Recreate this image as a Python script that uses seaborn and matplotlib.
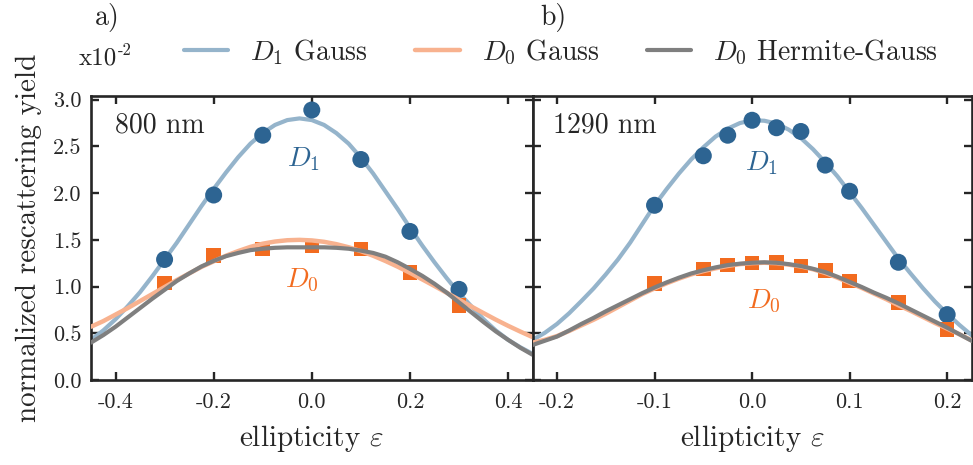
import matplotlib
matplotlib.use("Agg")
import matplotlib.pyplot as plt
import seaborn as sns

# ---------------- data ----------------
# panel a) 800 nm : measured points
left_x_pts = [-0.3, -0.2, -0.1, 0.0, 0.1, 0.2, 0.3]
left_d1_pts = [1.29, 1.98, 2.62, 2.89, 2.36, 1.59, 0.97]
left_d0_pts = [1.04, 1.33, 1.40, 1.435, 1.40, 1.15, 0.80]

# panel a) fitted curves (read off the picture)
left_fit_x = [-0.45, -0.425, -0.4, -0.375, -0.35, -0.325, -0.3, -0.275, -0.25, -0.225,
              -0.2, -0.175, -0.15, -0.125, -0.1, -0.075, -0.05, -0.025, 0.0, 0.025,
              0.05, 0.075, 0.1, 0.125, 0.15, 0.175, 0.2, 0.225, 0.25, 0.275,
              0.3, 0.325, 0.35, 0.375, 0.4, 0.425, 0.45]
left_d1_gauss = [0.43, 0.53, 0.65, 0.79, 0.94, 1.11, 1.29, 1.47, 1.665, 1.86,
                 2.045, 2.22, 2.385, 2.53, 2.643, 2.73, 2.782, 2.80, 2.782, 2.73,
                 2.643, 2.53, 2.38, 2.21, 2.02, 1.83, 1.63, 1.44, 1.26, 1.09,
                 0.93, 0.79, 0.65, 0.53, 0.43, 0.35, 0.28]
left_d0_gauss = [0.57, 0.63, 0.70, 0.77, 0.845, 0.92, 0.995, 1.07, 1.14, 1.21,
                 1.27, 1.33, 1.38, 1.425, 1.459, 1.482, 1.496, 1.50, 1.494, 1.479,
                 1.454, 1.421, 1.379, 1.33, 1.274, 1.213, 1.147, 1.077, 1.006, 0.933,
                 0.86, 0.787, 0.716, 0.646, 0.58, 0.518, 0.459]
left_d0_hg = [0.40, 0.48, 0.57, 0.67, 0.77, 0.87, 0.965, 1.06, 1.14, 1.215,
              1.275, 1.325, 1.36, 1.39, 1.405, 1.415, 1.42, 1.42, 1.42, 1.42,
              1.415, 1.405, 1.385, 1.36, 1.32, 1.26, 1.19, 1.115, 1.03, 0.935,
              0.83, 0.725, 0.62, 0.52, 0.43, 0.345, 0.27]

# panel b) 1290 nm : measured points
right_x_pts = [-0.1, -0.05, -0.025, 0.0, 0.025, 0.05, 0.075, 0.1, 0.15, 0.2]
right_d1_pts = [1.87, 2.40, 2.62, 2.78, 2.70, 2.66, 2.30, 2.02, 1.26, 0.70]
right_d0_pts = [1.03, 1.19, 1.23, 1.25, 1.26, 1.22, 1.17, 1.06, 0.83, 0.54]

# panel b) fitted curves (read off the picture)
right_fit_x = [-0.225, -0.2125, -0.2, -0.1875, -0.175, -0.1625, -0.15, -0.1375, -0.125, -0.1125,
               -0.1, -0.0875, -0.075, -0.0625, -0.05, -0.0375, -0.025, -0.0125, 0.0, 0.0125,
               0.025, 0.0375, 0.05, 0.0625, 0.075, 0.0875, 0.1, 0.1125, 0.125, 0.1375,
               0.15, 0.1625, 0.175, 0.1875, 0.2, 0.2125, 0.225]
right_d1_gauss = [0.43, 0.505, 0.60, 0.715, 0.845, 0.98, 1.13, 1.29, 1.47, 1.67,
                  1.87, 2.045, 2.21, 2.36, 2.49, 2.605, 2.69, 2.75, 2.78, 2.775,
                  2.745, 2.68, 2.59, 2.47, 2.33, 2.18, 2.01, 1.84, 1.66, 1.48,
                  1.30, 1.14, 0.985, 0.84, 0.71, 0.59, 0.48]
right_d0_gauss = [0.40, 0.43, 0.47, 0.525, 0.585, 0.645, 0.71, 0.78, 0.85, 0.92,
                  0.98, 1.035, 1.085, 1.13, 1.165, 1.195, 1.22, 1.24, 1.25, 1.255,
                  1.25, 1.235, 1.215, 1.185, 1.145, 1.095, 1.04, 0.985, 0.925, 0.865,
                  0.80, 0.74, 0.675, 0.61, 0.55, 0.49, 0.425]
right_d0_hg = [0.375, 0.42, 0.465, 0.53, 0.60, 0.665, 0.735, 0.80, 0.865, 0.93,
               0.99, 1.045, 1.095, 1.14, 1.175, 1.205, 1.23, 1.245, 1.255, 1.26,
               1.255, 1.24, 1.22, 1.19, 1.155, 1.105, 1.05, 0.995, 0.935, 0.88,
               0.82, 0.755, 0.69, 0.625, 0.56, 0.49, 0.42]

y_ticks = [0.0, 0.5, 1.0, 1.5, 2.0, 2.5, 3.0]
left_x_ticks = [-0.4, -0.2, 0.0, 0.2, 0.4]
right_x_ticks = [-0.2, -0.1, 0.0, 0.1, 0.2]

legend_labels = ["$D_1$ Gauss", "$D_0$ Gauss", "$D_0$ Hermite-Gauss"]

# ---------------- style ----------------
C_D1_LINE = "#95b4cb"
C_D0_LINE = "#f8b28f"
C_HG_LINE = "#7f7f7f"
C_D1_PT = "#2d6492"
C_D0_PT = "#f26b1f"

sns.set_style("ticks")
plt.rcParams.update({
    "font.family": "serif",
    "font.serif": ["cmr10", "DejaVu Serif"],
    "mathtext.fontset": "cm",
    "axes.unicode_minus": False,
    "axes.formatter.use_mathtext": False,
    "axes.linewidth": 1.9,
    "xtick.direction": "in",
    "ytick.direction": "in",
    "xtick.major.size": 6,
    "ytick.major.size": 6,
    "xtick.major.width": 1.7,
    "ytick.major.width": 1.7,
    "xtick.labelsize": 16,
    "ytick.labelsize": 16,
})

fig = plt.figure(figsize=(9.73, 4.65), dpi=100)
ax1 = fig.add_axes([0.0935, 0.1828, 0.4539, 0.6108])
ax2 = fig.add_axes([0.5474, 0.1828, 0.4511, 0.6108])


def draw(ax, fx, g1, g0, hg, px, p1, p0):
    sns.lineplot(x=fx, y=g1, ax=ax, color=C_D1_LINE, lw=3.0, label=legend_labels[0],
                 estimator=None, sort=False, zorder=2)
    sns.scatterplot(x=px, y=p1, ax=ax, color=C_D1_PT, marker="o", s=150,
                    edgecolor="none", zorder=3, legend=False)
    sns.scatterplot(x=px, y=p0, ax=ax, color=C_D0_PT, marker="s", s=110,
                    edgecolor="none", zorder=3, legend=False)
    sns.lineplot(x=fx, y=g0, ax=ax, color=C_D0_LINE, lw=3.2, label=legend_labels[1],
                 estimator=None, sort=False, zorder=4)
    sns.lineplot(x=fx, y=hg, ax=ax, color=C_HG_LINE, lw=3.0, label=legend_labels[2],
                 estimator=None, sort=False, zorder=5)


draw(ax1, left_fit_x, left_d1_gauss, left_d0_gauss, left_d0_hg,
     left_x_pts, left_d1_pts, left_d0_pts)
draw(ax2, right_fit_x, right_d1_gauss, right_d0_gauss, right_d0_hg,
     right_x_pts, right_d1_pts, right_d0_pts)

handles, labels = ax1.get_legend_handles_labels()
ax1.get_legend().remove()
ax2.get_legend().remove()

for ax in (ax1, ax2):
    ax.set_ylim(0, 3.04)
    ax.set_yticks(y_ticks)
    ax.tick_params(which="both", top=True, right=True, direction="in")
    ax.tick_params(axis="x", pad=9)
    ax.tick_params(axis="y", pad=7)
    for s in ax.spines.values():
        s.set_visible(True)
        s.set_linewidth(1.9)
    ax.set_xlabel(r"ellipticity $\varepsilon$", fontsize=21, labelpad=8)

ax1.set_xlim(-0.45, 0.45)
ax1.set_xticks(left_x_ticks)
ax1.set_xticklabels([f"{v:.1f}" for v in left_x_ticks])
ax1.set_yticklabels([f"{v:.1f}" for v in y_ticks])
ax1.set_ylabel("normalized rescattering yield", fontsize=21, labelpad=8)

ax2.set_xlim(-0.225, 0.225)
ax2.set_xticks(right_x_ticks)
ax2.set_xticklabels([f"{v:.1f}" for v in right_x_ticks])
ax2.set_yticklabels([])
ax2.set_ylabel("")

# annotations
ax1.text(0.054, 0.873, "800 nm", transform=ax1.transAxes, fontsize=20, va="baseline")
ax2.text(0.046, 0.873, "1290 nm", transform=ax2.transAxes, fontsize=20, va="baseline")
ax1.text(-0.016, 2.36, "$D_1$", color=C_D1_PT, fontsize=20, ha="center", va="center")
ax1.text(-0.02, 1.07, "$D_0$", color=C_D0_PT, fontsize=20, ha="center", va="center")
ax2.text(0.0095, 2.32, "$D_1$", color=C_D1_PT, fontsize=20, ha="center", va="center")
ax2.text(0.012, 0.835, "$D_0$", color=C_D0_PT, fontsize=20, ha="center", va="center")

fig.text(95 / 973, 1 - 17 / 465, "a)", fontsize=20, va="center")
fig.text(540 / 973, 1 - 17 / 465, "b)", fontsize=20, va="center")
fig.text(79 / 973, 1 - 64 / 465, "x10", fontsize=18, va="baseline")
fig.text(118 / 973, 1 - 55 / 465, "-2", fontsize=12, va="baseline")

fig.legend(handles, labels, loc="center", bbox_to_anchor=(561 / 973, 1 - 52 / 465),
           ncol=3, frameon=False, fontsize=20, handlelength=1.6, handletextpad=0.8,
           columnspacing=1.7, borderaxespad=0, borderpad=0)

fig.savefig("out.png", dpi=100)
